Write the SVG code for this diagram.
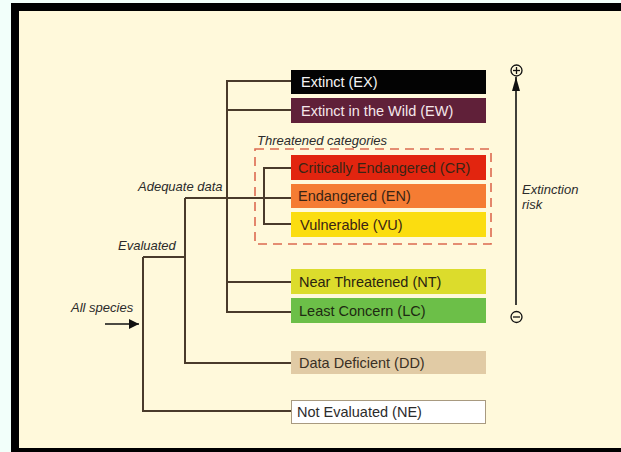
<svg xmlns="http://www.w3.org/2000/svg" width="621" height="452" viewBox="0 0 621 452">
<defs>
<marker id="arr" viewBox="0 0 10 10" refX="10" refY="5" markerWidth="10" markerHeight="10" markerUnits="userSpaceOnUse" orient="auto">
<path d="M0,0 L10,5 L0,10 Z" fill="#111"/>
</marker>
<marker id="arrBig" viewBox="0 0 14 8" refX="14" refY="4" markerWidth="14" markerHeight="8" markerUnits="userSpaceOnUse" orient="auto">
<path d="M0,0 L14,4 L0,8 Z" fill="#111"/>
</marker>
</defs>
<style>
.box text{font-family:"Liberation Sans",Arial,sans-serif;font-size:14.5px}
.lbl{font-family:"Liberation Sans",Arial,sans-serif;font-size:13px;font-style:italic;fill:#2b2b2b}
.con line,.con polyline{stroke:#4a3b2b;stroke-width:2;fill:none}
.dark{fill:#3a2414}
</style>
<rect x="0" y="0" width="621" height="452" fill="#f2fffa"/>
<rect x="11" y="3" width="610" height="449" fill="#000"/>
<rect x="19" y="11" width="602" height="437" fill="#fff9db"/>

<g id="threatened-group">
<rect x="255" y="149" width="236" height="95" fill="none" stroke="#dc6a50" stroke-width="1.6" stroke-dasharray="9,6"/>
<text class="lbl" x="257" y="145">Threatened categories</text>
</g>

<g class="con" id="connectors">
<polyline points="291,81 227,81 227,312 291,312"/>
<line x1="227" y1="110" x2="291" y2="110"/>
<line x1="227" y1="282" x2="291" y2="282"/>
<line x1="185" y1="198" x2="291" y2="198"/>
<polyline points="291,168 264,168 264,224 291,224"/>
<polyline points="143,257 185,257"/>
<polyline points="185,198 185,363 291,363"/>
<polyline points="143,257 143,411 291,411"/>
<line x1="105" y1="324" x2="139" y2="324" stroke="#111" stroke-width="1.6" marker-end="url(#arr)" style="stroke:#111;stroke-width:1.6"/>
<line x1="516" y1="305" x2="516" y2="77" marker-end="url(#arrBig)" style="stroke:#111;stroke-width:1.6"/>
</g>

<g id="EX" class="box"><rect x="291" y="70" width="195" height="24" fill="#030303"/><text x="301" y="87" fill="#f4f4f4">Extinct (EX)</text></g>
<g id="EW" class="box"><rect x="291" y="98" width="195" height="25" fill="#602039"/><text x="301" y="115.5" fill="#f4e6ea">Extinct in the Wild (EW)</text></g>
<g id="CR" class="box"><rect x="291" y="155" width="195" height="25" fill="#e2250f"/><text x="298" y="172.5" class="dark">Critically Endangered (CR)</text></g>
<g id="EN" class="box"><rect x="291" y="184" width="195" height="24" fill="#f57c33"/><text x="298" y="201" class="dark">Endangered (EN)</text></g>
<g id="VU" class="box"><rect x="291" y="212" width="195" height="25" fill="#fbdd10"/><text x="300" y="229.5" class="dark">Vulnerable (VU)</text></g>
<g id="NT" class="box"><rect x="291" y="269" width="195" height="25" fill="#dcdc2c"/><text x="299" y="286.5" fill="#2a2410">Near Threatened (NT)</text></g>
<g id="LC" class="box"><rect x="291" y="298" width="195" height="25" fill="#6cbf48"/><text x="299" y="315.5" fill="#1e2a12">Least Concern (LC)</text></g>
<g id="DD" class="box"><rect x="291" y="351" width="195" height="23" fill="#e1cba5"/><text x="299" y="367.5" fill="#3a3024">Data Deficient (DD)</text></g>
<g id="NE" class="box"><rect x="291.5" y="400.5" width="194" height="23" fill="#ffffff" stroke="#a89a80" stroke-width="1"/><text x="297" y="417" fill="#2b2b2b">Not Evaluated (NE)</text></g>

<g id="labels">
<text class="lbl" x="138" y="191">Adequate data</text>
<text class="lbl" x="118" y="250">Evaluated</text>
<text class="lbl" x="71" y="312">All species</text>
<text class="lbl" x="522" y="194">Extinction</text>
<text class="lbl" x="522" y="209">risk</text>
</g>

<g id="risk-axis">
<circle cx="516.5" cy="70.5" r="5.5" fill="none" stroke="#111" stroke-width="1.3"/>
<line x1="513" y1="70.5" x2="520" y2="70.5" stroke="#111" stroke-width="1.3"/>
<line x1="516.5" y1="67" x2="516.5" y2="74" stroke="#111" stroke-width="1.3"/>
<circle cx="516.5" cy="317" r="5.5" fill="none" stroke="#111" stroke-width="1.3"/>
<line x1="513" y1="317" x2="520" y2="317" stroke="#111" stroke-width="1.3"/>
</g>
</svg>
